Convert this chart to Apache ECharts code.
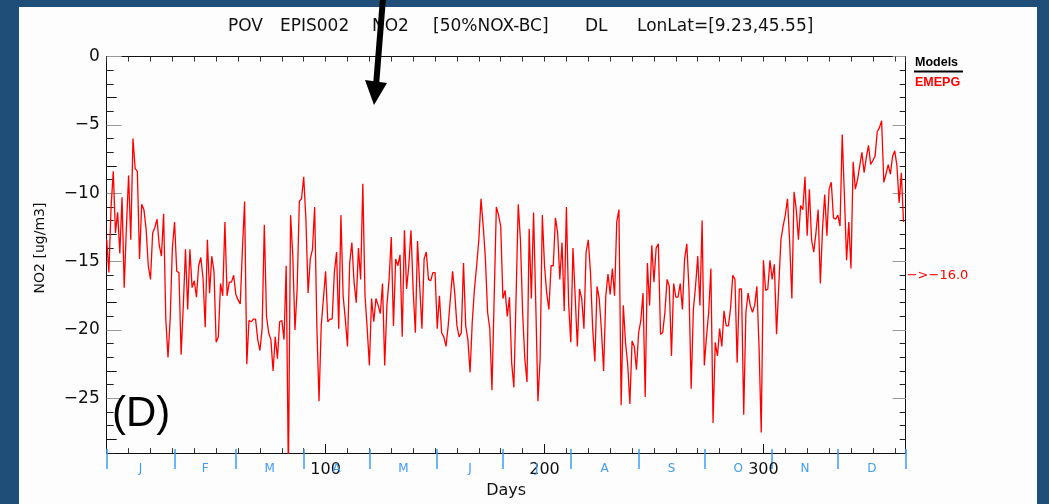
<!DOCTYPE html>
<html>
<head>
<meta charset="utf-8">
<script src="https://cdn.jsdelivr.net/npm/echarts@6/dist/echarts.min.js"></script>
<style>
  html, body { margin: 0; padding: 0; width: 1049px; height: 504px; background: #1f4e79; overflow: hidden; }
  #panel { position: absolute; left: 19px; top: 7px; width: 1018px; height: 497px; background: #fdfdfd; }
  #chart { position: absolute; left: 0; top: 0; width: 1049px; height: 504px; }
</style>
</head>
<body>
<div id="panel"></div>
<div id="chart"></div>
<script>
// Daily NO2 differences (EMEPG model), day 0..364
const emepg = [
  -13.4, -15.8, -11.0, -8.4, -12.9, -11.4, -14.4, -10.3, -16.9, -12.5,
  -8.7, -13.4, -6.0, -8.2, -8.4, -14.8, -10.8, -11.2, -12.6, -15.3,
  -16.3, -12.9, -12.5, -11.9, -13.8, -14.6, -11.5, -19.2, -22.0, -19.2,
  -14.0, -12.1, -15.7, -15.8, -21.8, -18.2, -14.1, -18.5, -14.1, -16.9,
  -16.4, -17.6, -15.3, -14.7, -16.2, -19.8, -13.4, -17.3, -14.6, -15.7,
  -20.9, -20.5, -16.6, -17.5, -12.1, -17.5, -16.5, -16.5, -16.0, -17.4,
  -17.8, -18.1, -14.1, -10.6, -22.5, -19.3, -19.4, -19.2, -19.2, -20.7,
  -21.5, -19.9, -12.3, -19.0, -20.2, -20.7, -23.0, -20.5, -22.1, -19.4,
  -19.3, -20.7, -15.3, -30.5, -11.6, -14.5, -20.0, -17.0, -10.6, -10.4,
  -8.8, -11.9, -17.3, -14.8, -14.1, -11.0, -19.7, -25.2, -19.7, -17.7,
  -15.7, -19.4, -19.2, -19.2, -15.8, -14.3, -19.9, -11.6, -17.5, -19.2,
  -21.2, -15.1, -13.6, -16.5, -18.0, -14.0, -16.3, -9.3, -17.5, -19.9,
  -22.6, -17.7, -19.4, -17.7, -18.2, -18.8, -16.6, -22.6, -18.2, -16.3,
  -13.2, -19.7, -14.8, -15.3, -14.5, -20.5, -12.7, -17.0, -15.3, -12.7,
  -17.1, -20.2, -13.5, -16.8, -19.9, -14.8, -14.3, -16.3, -16.4, -15.8,
  -15.8, -19.9, -17.5, -20.2, -20.5, -21.2, -19.7, -17.7, -15.7, -17.3,
  -19.7, -20.5, -20.2, -15.1, -19.7, -20.7, -23.1, -19.4, -17.0, -15.3,
  -13.4, -10.4, -12.4, -14.8, -18.7, -19.9, -24.4, -17.7, -11.0, -11.6,
  -12.4, -17.7, -17.1, -19.0, -17.6, -22.4, -24.2, -17.7, -10.8, -13.4,
  -18.7, -22.1, -23.8, -12.6, -17.7, -11.4, -18.0, -25.2, -22.1, -11.6,
  -15.3, -17.3, -18.5, -15.3, -15.3, -11.8, -12.9, -16.3, -13.6, -18.6,
  -11.0, -18.0, -20.9, -14.0, -17.5, -21.2, -17.0, -17.7, -19.9, -14.3,
  -13.4, -15.8, -19.9, -22.3, -16.8, -17.7, -20.0, -23.0, -17.5, -15.9,
  -17.4, -15.5, -17.5, -12.1, -11.2, -25.5, -18.2, -20.9, -22.5, -25.4,
  -20.8, -21.2, -22.9, -20.2, -19.3, -17.3, -24.9, -15.1, -18.2, -13.8,
  -16.5, -14.0, -13.7, -20.3, -20.2, -18.7, -16.3, -16.8, -21.9, -16.6,
  -17.6, -17.6, -16.6, -18.5, -14.8, -13.7, -17.0, -24.3, -18.5, -16.8,
  -14.6, -18.2, -12.0, -22.6, -20.5, -18.7, -15.5, -26.8, -20.9, -21.9,
  -19.9, -21.2, -18.6, -19.7, -19.7, -18.4, -16.0, -16.3, -22.4, -17.0,
  -17.0, -26.2, -18.7, -17.3, -18.2, -18.7, -18.2, -16.8, -21.2, -27.5,
  -14.9, -17.1, -17.0, -14.9, -16.3, -15.2, -20.3, -16.8, -13.4, -12.4,
  -11.6, -10.4, -13.6, -17.7, -9.9, -11.2, -13.4, -10.9, -11.2, -8.8,
  -13.1, -9.7, -13.4, -14.3, -12.9, -11.2, -16.6, -12.6, -10.1, -13.1,
  -9.7, -9.2, -11.8, -11.9, -11.6, -12.4, -5.7, -10.2, -14.9, -12.1,
  -15.5, -7.7, -9.7, -9.0, -8.0, -7.0, -8.5, -7.4, -6.5, -7.9,
  -7.6, -7.3, -5.5, -5.2, -4.7, -9.2, -8.6, -7.9, -8.6, -7.3,
  -6.9, -8.0, -10.7, -8.5, -12.1
];
const days = emepg.map((_, i) => i);

// Axis annotations
const dayLabels = [100, 200, 300];
const monthStarts = [0, 31, 59, 90, 120, 151, 181, 212, 243, 273, 304, 334, 365];
const monthLetters = ['J', 'F', 'M', 'A', 'M', 'J', 'J', 'A', 'S', 'O', 'N', 'D'];
const yLabels = [-25, -20, -15, -10, -5, 0];
const yOffsetTicks = [-28, -23, -18, -13, -8, -3];
const meanValue = -16.0;
const modelNames = ['EMEPG'];

const titleWords = ['POV', 'EPIS002', 'NO2', '[50%NOX-BC]', 'DL', 'LonLat=[9.23,45.55]'];
const titleX = [228, 280, 372, 433, 585, 637];

const monthMids = monthStarts.slice(0, -1).map((s, i) => (s + monthStarts[i + 1]) / 2);

const FONT = 'DejaVu Sans';
const BLUE = '#3d9cf2';
const RED = '#ff0000';
const minusFmt = v => (v < 0 ? '\u2212' + Math.abs(v) : String(v));

const chart = echarts.init(document.getElementById('chart'), null, { renderer: 'canvas' });

const xBase = { type: 'value', min: 0, max: 365, splitLine: { show: false } };
const yBase = { type: 'value', min: -29, max: 0, splitLine: { show: false } };

const option = {
  animation: false,
  backgroundColor: 'transparent',
  grid: { left: 106.7, right: 143.3, top: 56.5, bottom: 47.3 },
  xAxis: [
    Object.assign({}, xBase, {
      position: 'bottom', interval: 10,
      axisLine: { onZero: false, lineStyle: { color: '#111', width: 1 } },
      axisTick: { inside: true, length: 5, lineStyle: { color: '#333' } },
      axisLabel: { customValues: dayLabels, color: '#111', fontSize: 16, fontFamily: FONT, margin: 9 },
      name: 'Days', nameLocation: 'middle', nameGap: 24,
      nameTextStyle: { color: '#111', fontSize: 16, fontFamily: FONT }
    }),
    Object.assign({}, xBase, {
      position: 'bottom',
      axisLine: { show: false, onZero: false },
      axisTick: { inside: true, length: 9, customValues: dayLabels, lineStyle: { color: '#111' } },
      axisLabel: { show: false }
    }),
    Object.assign({}, xBase, {
      position: 'bottom',
      axisLine: { show: false, onZero: false },
      axisTick: { inside: false, length: 16, customValues: monthStarts, lineStyle: { color: BLUE, width: 1.5 } },
      axisLabel: {
        customValues: monthMids, color: BLUE, fontSize: 12, fontFamily: FONT, margin: 10,
        formatter: v => monthLetters[monthMids.indexOf(v)]
      }
    }),
    Object.assign({}, xBase, {
      position: 'bottom',
      axisLine: { show: false, onZero: false },
      axisTick: { inside: true, length: 4, customValues: monthStarts, lineStyle: { color: BLUE, width: 1.5 } },
      axisLabel: { show: false }
    }),
    Object.assign({}, xBase, {
      position: 'top', interval: 10,
      axisLine: { onZero: false, lineStyle: { color: '#111', width: 1 } },
      axisTick: { inside: true, length: 5, lineStyle: { color: '#333' } },
      axisLabel: { show: false }
    })
  ],
  yAxis: [
    Object.assign({}, yBase, {
      position: 'left', interval: 1,
      axisLine: { onZero: false, lineStyle: { color: '#111', width: 1 } },
      axisTick: { inside: true, length: 7, lineStyle: { color: '#222' } },
      axisLabel: { customValues: yLabels, formatter: minusFmt, color: '#111', fontSize: 17, fontFamily: FONT, margin: 7 }
    }),
    Object.assign({}, yBase, {
      position: 'left',
      axisLine: { show: false, onZero: false },
      axisTick: { inside: true, length: 15, customValues: yLabels, lineStyle: { color: '#999' } },
      axisLabel: { show: false }
    }),
    Object.assign({}, yBase, {
      position: 'left',
      axisLine: { show: false, onZero: false },
      axisTick: { inside: true, length: 10, customValues: yOffsetTicks, lineStyle: { color: '#111' } },
      axisLabel: { show: false }
    }),
    Object.assign({}, yBase, {
      position: 'right', interval: 1,
      axisLine: { onZero: false, lineStyle: { color: '#111', width: 1 } },
      axisTick: { inside: true, length: 6, lineStyle: { color: '#222' } },
      axisLabel: { show: false }
    }),
    Object.assign({}, yBase, {
      position: 'right',
      axisLine: { show: false, onZero: false },
      axisTick: { inside: true, length: 13, customValues: yLabels, lineStyle: { color: '#999' } },
      axisLabel: { show: false }
    })
  ],
  series: [
    {
      name: modelNames[0],
      type: 'line',
      xAxisIndex: 0,
      yAxisIndex: 0,
      data: days.map((d, i) => [d, emepg[i]]),
      showSymbol: false,
      symbol: 'none',
      clip: true,
      lineStyle: { color: RED, width: 1.3 },
      z: 3
    }
  ]
};

chart.setOption(option);

// Annotations drawn on top of the plot
const meanY = chart.convertToPixel({ yAxisIndex: 0 }, meanValue);
const rightEdge = chart.convertToPixel({ xAxisIndex: 0 }, 365);

const graphics = [];
titleWords.forEach((w, i) => {
  graphics.push({
    type: 'text', left: titleX[i], top: 18, z: 10,
    style: { text: w, fill: '#111', font: '17px "DejaVu Sans"' }
  });
});
graphics.push(
  {
    type: 'text', x: 40, y: 248, rotation: Math.PI / 2, z: 10,
    style: { text: 'NO2 [ug/m3]', fill: '#111', font: '14px "DejaVu Sans"', align: 'center', verticalAlign: 'middle' }
  },
  {
    type: 'text', x: 915, y: 63, z: 10,
    style: { text: 'Models', fill: '#000', font: 'bold 12.5px "Liberation Sans"', verticalAlign: 'middle' }
  },
  {
    type: 'line', z: 10,
    shape: { x1: 914, y1: 71.5, x2: 963, y2: 71.5 },
    style: { stroke: '#000', lineWidth: 2 }
  },
  {
    type: 'text', x: 915, y: 82.5, z: 10,
    style: { text: modelNames[0], fill: RED, font: 'bold 12.5px "Liberation Sans"', verticalAlign: 'middle' }
  },
  {
    type: 'text', x: rightEdge + 1, y: meanY, z: 10,
    style: { text: '\u2212>\u2212' + meanValue.toFixed(1).replace('-', ''), fill: RED, font: '13px "DejaVu Sans"', verticalAlign: 'middle' }
  },
  {
    type: 'text', x: 112, y: 414, z: 10,
    style: { text: '(D)', fill: '#000', font: '42px "Liberation Sans"', verticalAlign: 'middle' }
  },
  {
    type: 'line', z: 20,
    shape: { x1: 383, y1: -2, x2: 376, y2: 86 },
    style: { stroke: '#000', lineWidth: 6 }
  },
  {
    type: 'polygon', z: 20,
    shape: { points: [[365, 80], [387, 83], [374, 105]] },
    style: { fill: '#000' }
  }
);

chart.setOption({ graphic: graphics });
</script>
</body>
</html>
